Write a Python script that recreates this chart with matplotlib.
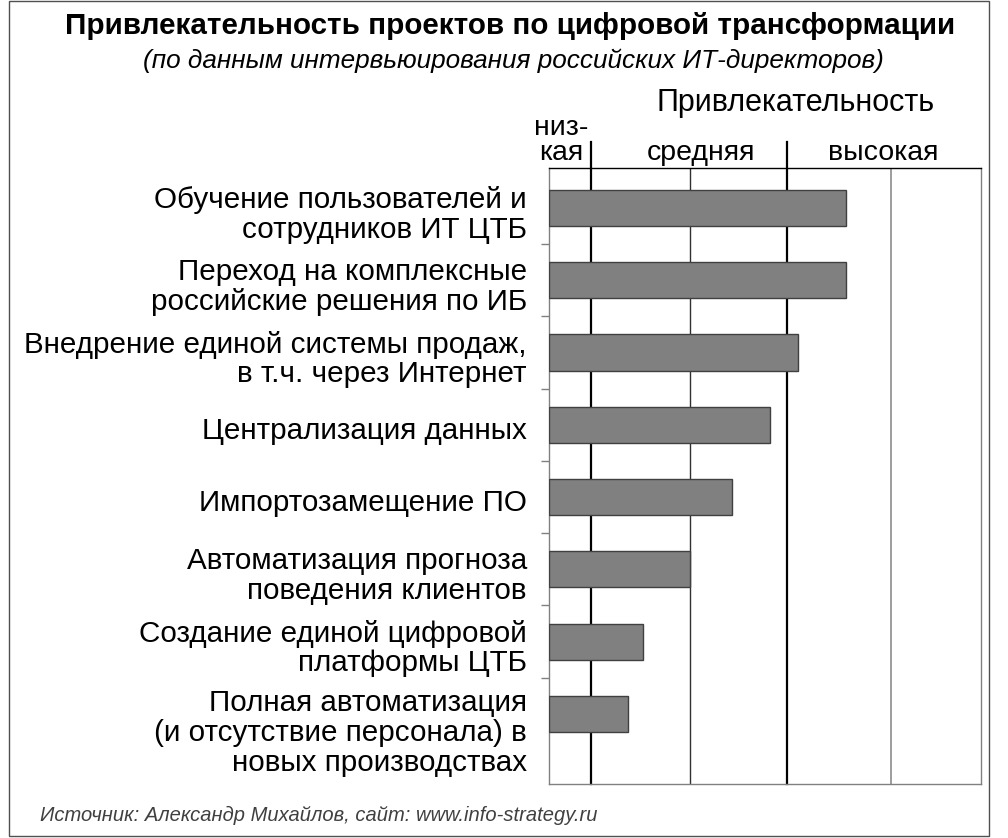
import matplotlib
matplotlib.use("Agg")
import matplotlib.pyplot as plt
from matplotlib.transforms import ScaledTranslation
from matplotlib.patches import Rectangle

plt.rcParams['font.family'] = ['Liberation Sans', 'DejaVu Sans']

W, H = 1008, 838  # figure size, px

# data (x in hundreds of px from the left of the plot)
projects = [
    "Обучение пользователей и\nсотрудников ИТ ЦТБ",
    "Переход на комплексные\nроссийские решения по ИБ",
    "Внедрение единой системы продаж,\nв т.ч. через Интернет",
    "Централизация данных",
    "Импортозамещение ПО",
    "Автоматизация прогноза\nповедения клиентов",
    "Создание единой цифровой\nплатформы ЦТБ",
    "Полная автоматизация\n(и отсутствие персонала) в\nновых производствах",
]
scores = [2.97, 2.97, 2.49, 2.21, 1.83, 1.41, 0.94, 0.79]

level_names = ["низ-\nкая", "средняя", "высокая"]
level_x = [0.12, 1.52, 3.34]          # centre of each header text
major_bounds = [0.42, 2.38]           # thick lines between levels
minor_lines = [1.41, 3.42]            # thin lines inside levels
x_max = 4.32

title = "Привлекательность проектов по цифровой трансформации"
subtitle = "(по данным интервьюирования российских ИТ-директоров)"
axis_title = "Привлекательность"
source = "Источник: Александр Михайлов, сайт: www.info-strategy.ru"


def fx(px):
    return px / W


def fy(py):
    return 1 - py / H


fig = plt.figure(figsize=(W / 100, H / 100), dpi=100)
ax = fig.add_axes([fx(549), fy(784), fx(432), 616 / H])

pos = list(range(len(projects)))
ax.barh(pos, scores, height=0.5, color="#808080", edgecolor="#404040",
        linewidth=1, zorder=3)

ax.set_xlim(0, x_max)
ax.set_ylim(7.97, -0.553)

# grid lines between / inside the levels
top_ext = 1 + 26 / 616
for x in major_bounds:
    ax.axvline(x, ymin=0, ymax=top_ext, color="black", lw=1.6, zorder=1,
               clip_on=False)
ax.axvline(minor_lines[0], color="#303030", lw=1.0, zorder=1)
ax.axvline(minor_lines[1], color="#8c8c8c", lw=1.2, zorder=1)

for side in ["left", "bottom", "right"]:
    ax.spines[side].set_color("#808080")
    ax.spines[side].set_linewidth(1.0)
ax.spines["top"].set_color("black")
ax.spines["top"].set_linewidth(1.0)

ax.set_xticks([])
ax.set_yticks(pos)
ax.set_yticklabels(projects, fontsize=21.3, linespacing=1.08)
ax.set_yticks([p + 0.5 for p in pos[:-1]], minor=True)
ax.tick_params(axis="y", which="major", length=0, pad=16)
ax.tick_params(axis="y", which="minor", length=6, color="#808080", width=1)

# nudge the labels down a little, as in the source
for i, lab in enumerate(ax.get_yticklabels()):
    dy = -0.15 if i == len(projects) - 1 else -0.03
    lab.set_transform(lab.get_transform() +
                      ScaledTranslation(0, dy, fig.dpi_scale_trans))

# header above the plot
for name, x in zip(level_names, level_x):
    ax.text(x, -0.553 - 8 / 72.3, name, ha="center", va="baseline",
            fontsize=20.5, linespacing=0.95)

fig.text(fx(796), fy(111), axis_title, ha="center", va="baseline",
         fontsize=22)
fig.text(fx(510), fy(34), title, ha="center", va="baseline",
         fontsize=21.3, fontweight="bold")
fig.text(fx(513), fy(68), subtitle, ha="center", va="baseline",
         fontsize=18.8, fontstyle="italic")
fig.text(fx(40), fy(821), source, ha="left", va="baseline",
         fontsize=14.5, fontstyle="italic", color="#404040")

# outer frame
fig.patches.append(Rectangle((fx(9), fy(836)), fx(980), (835) / H,
                             transform=fig.transFigure, fill=False,
                             edgecolor="#505050", lw=1))

fig.savefig("out.png", dpi=100)
